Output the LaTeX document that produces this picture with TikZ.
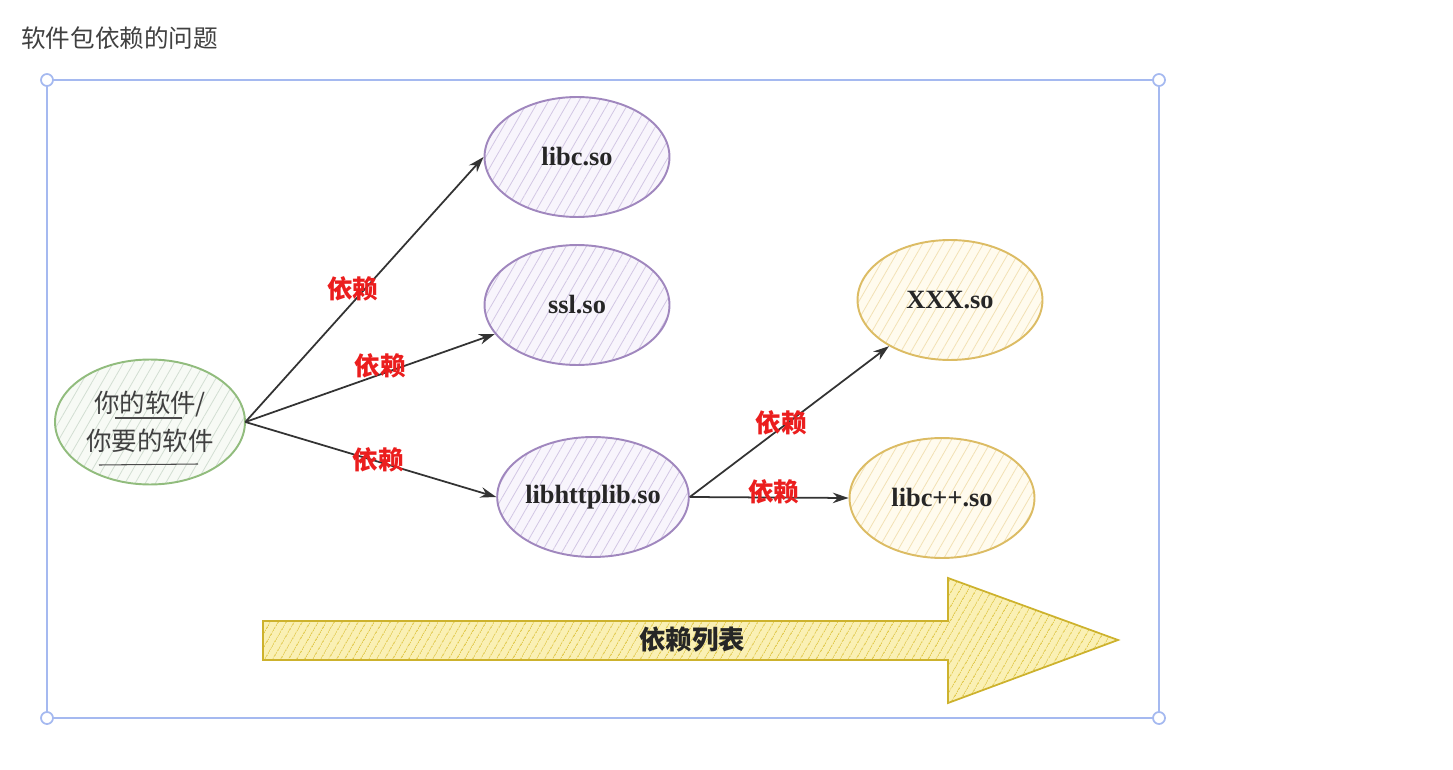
\documentclass[tikz,border=0pt]{standalone}
\usepackage{fontspec}
\newfontfamily\cjk{Noto Sans CJK SC}
\newfontfamily\soserif{Liberation Serif}
\usetikzlibrary{shapes.geometric, arrows.meta, positioning, patterns.meta}
\definecolor{framblue}{RGB}{165, 185, 240}
\definecolor{sopurple}{RGB}{160, 135, 190}
\definecolor{sopurplefill}{RGB}{248, 245, 252}
\definecolor{sopurplehatch}{RGB}{210, 198, 228}
\definecolor{soyellow}{RGB}{220, 188, 100}
\definecolor{soyellowfill}{RGB}{255, 251, 238}
\definecolor{soyellowhatch}{RGB}{242, 225, 180}
\definecolor{sogreen}{RGB}{145, 188, 125}
\definecolor{sogreenfill}{RGB}{247, 250, 245}
\definecolor{sogreenhatch}{RGB}{210, 222, 210}
\definecolor{depred}{RGB}{235, 30, 30}
\definecolor{listline}{RGB}{205, 178, 45}
\definecolor{listfill}{RGB}{250, 240, 180}
\definecolor{listhatch}{RGB}{225, 200, 70}

\begin{document}
\begin{tikzpicture}[x=0.02cm, y=-0.02cm,
    so/.style={ellipse, inner sep=0pt, line width=1.1pt, minimum width=3.7cm, minimum height=2.4cm,
        font=\soserif\bfseries\fontsize{15}{18}\selectfont, text=black!85},
    purpleso/.style={so, draw=sopurple, preaction={fill=sopurplefill},
        pattern={Lines[angle=60, distance=5pt, line width=0.45pt]}, pattern color=sopurplehatch},
    yellowso/.style={so, draw=soyellow, preaction={fill=soyellowfill},
        pattern={Lines[angle=60, distance=5pt, line width=0.45pt]}, pattern color=soyellowhatch},
    greenso/.style={so, draw=sogreen, preaction={fill=sogreenfill},
        pattern={Lines[angle=60, distance=5pt, line width=0.45pt]}, pattern color=sogreenhatch,
        minimum width=3.8cm, minimum height=2.5cm, align=center,
        font=\cjk\fontsize{14.5}{21.5}\selectfont, text=black!75},
    dep/.style={-{Stealth[length=9pt, width=6pt]}, line width=1pt, draw=black!80},
    deplbl/.style={text=depred, font=\cjk\bfseries\fontsize{14.5}{16}\selectfont, inner sep=1pt}]
    \useasboundingbox (0,0) rectangle (1453,770);

    % title and frame
    \node[anchor=west, text=black!75, font=\cjk\fontsize{14}{16}\selectfont] (title) at (15,38) {软件包依赖的问题};
    \draw[framblue, line width=1pt] (47,80) rectangle (1159,718);
    \foreach \c in {(47,80), (1159,80), (47,718), (1159,718)}
        \draw[framblue, line width=1pt, fill=white] \c circle (0.12cm);

    % the software and its libraries
    \node[greenso] (soft) at (150,422) {你的软件/\\你要的软件};
    \draw[black!70, line width=0.6pt] (115,418) -- (182,418);
    \draw[black!70, line width=0.6pt] (99,465) -- (198,464);

    \node[purpleso] (libc) at (577,157) {libc.so};
    \node[purpleso] (ssl) at (577,305) {ssl.so};
    \node[purpleso] (httplib) at (593,497) {libhttplib.so};
    \node[yellowso] (xxx) at (950,300) {XXX.so};
    \node[yellowso] (libcxx) at (942,498) {libc++.so};

    % dependencies
    \draw[dep] (soft.east) -- (libc.west) node[deplbl, pos=0.45, yshift=8pt] {依赖};
    \draw[dep] (soft.east) -- (ssl) node[deplbl, pos=0.54, yshift=5pt] {依赖};
    \draw[dep] (soft.east) -- (httplib.west) node[deplbl, pos=0.53, yshift=1pt] {依赖};
    \draw[dep] (httplib.east) -- (xxx) node[deplbl, pos=0.46, yshift=3pt] {依赖};
    \draw[dep] (httplib.east) -- (libcxx.west) node[deplbl, pos=0.53, yshift=3pt] {依赖};

    % list arrow
    \draw[listline, line width=1pt, preaction={fill=listfill},
        pattern={Lines[angle=60, distance=4pt, line width=0.6pt]}, pattern color=listhatch]
        (263,621) -- (948,621) -- (948,578) -- (1118,640) -- (948,703) -- (948,660) -- (263,660) -- cycle;
    \node[text=black!85, font=\cjk\bfseries\fontsize{15}{17}\selectfont] (list) at (692,640) {依赖列表};
\end{tikzpicture}
\end{document}
